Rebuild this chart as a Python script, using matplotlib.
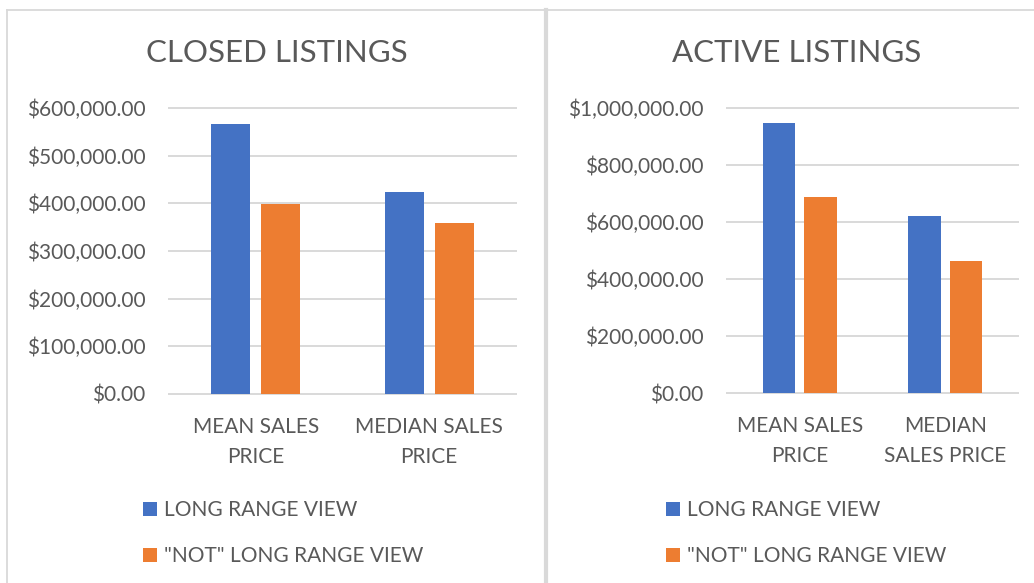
import matplotlib
matplotlib.use("Agg")
import matplotlib.pyplot as plt
from matplotlib.ticker import FuncFormatter
from matplotlib.lines import Line2D
import numpy as np

plt.rcParams['font.family'] = ['Lato', 'DejaVu Sans']

categories_closed = ["MEAN SALES\nPRICE", "MEDIAN SALES\nPRICE"]
categories_active = ["MEAN SALES\nPRICE", "MEDIAN\nSALES PRICE"]
series = ["LONG RANGE VIEW", '"NOT" LONG RANGE VIEW']
closed_long = [566000, 424000]
closed_not = [399000, 359000]
active_long = [947000, 621000]
active_not = [688000, 463000]
closed_ticks = [0, 100000, 200000, 300000, 400000, 500000, 600000]
active_ticks = [0, 200000, 400000, 600000, 800000, 1000000]

BLUE = '#4472C4'
ORANGE = '#ED7D31'
TXT = '#595959'
GRID = '#D9D9D9'
FS = 15

W, H = 1034, 583
fig = plt.figure(figsize=(W / 100, H / 100), dpi=100)
fig.patch.set_facecolor('white')


def px(x0, y_top, x1, y_bot):
    return [x0 / W, (H - y_bot) / H, (x1 - x0) / W, (y_bot - y_top) / H]


def draw(rect, title, title_x, cats, long_vals, not_vals, ticks, leg_xy):
    ax = fig.add_axes(rect)
    x = np.arange(len(cats))
    w, off = 0.225, 0.143
    b1 = ax.bar(x - off, long_vals, w, color=BLUE, label=series[0], zorder=3)
    b2 = ax.bar(x + off, not_vals, w, color=ORANGE, label=series[1], zorder=3)
    ax.set_xlim(-0.5, len(cats) - 0.5)
    ax.set_ylim(ticks[0], ticks[-1])
    ax.set_yticks(ticks)
    ax.yaxis.set_major_formatter(FuncFormatter(lambda v, p: f"${v:,.2f}"))
    ax.set_xticks(x)
    ax.set_xticklabels(cats, linespacing=1.66)
    ax.tick_params(axis='y', length=0, pad=17, labelsize=FS, labelcolor=TXT)
    ax.tick_params(axis='x', length=0, pad=16.5, labelsize=FS, labelcolor=TXT)
    for s in ax.spines.values():
        s.set_visible(False)
    ax.yaxis.grid(True, color=GRID, linewidth=1.4, zorder=0)
    for ln in ax.get_ygridlines():
        ln.set_clip_on(False)
    ax.set_axisbelow(True)
    fig.text(title_x / W, (H - 53) / H, title, ha='center', va='center',
             fontsize=22.5, color=TXT)
    ax.legend(handles=[b1, b2], loc='upper left',
              bbox_to_anchor=(leg_xy[0] / W, (H - leg_xy[1]) / H),
              bbox_transform=fig.transFigure, frameon=False, fontsize=FS,
              labelcolor=TXT, handlelength=0.67, handleheight=0.67,
              handletextpad=0.34, labelspacing=1.26, borderpad=0,
              borderaxespad=0)
    return ax


draw(px(169, 108, 516, 394), "CLOSED LISTINGS", 277, categories_closed,
     closed_long, closed_not, closed_ticks, (143, 500))
draw(px(727, 108, 1018, 393), "ACTIVE LISTINGS", 797, categories_active,
     active_long, active_not, active_ticks, (666, 500))

# chart borders
border = dict(color='#D9D9D9', transform=fig.transFigure)
fig.add_artist(Line2D([7 / W, 1], [(H - 10) / H] * 2, linewidth=1.3, **border))
fig.add_artist(Line2D([7 / W] * 2, [0, (H - 10) / H], linewidth=1.3, **border))
fig.add_artist(Line2D([546 / W] * 2, [0, (H - 10) / H], linewidth=3, **border))

fig.savefig("out.png", dpi=100, facecolor='white')
